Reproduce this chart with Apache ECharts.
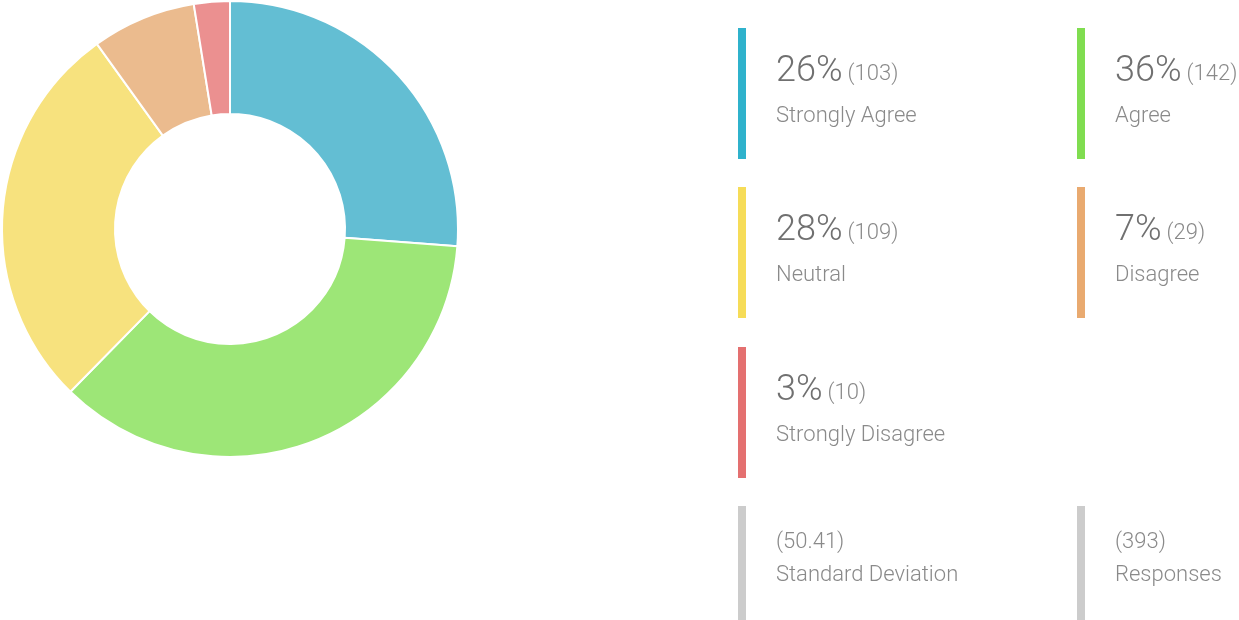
<!DOCTYPE html>
<html>
<head>
<meta charset="utf-8">
<script src="https://cdn.jsdelivr.net/npm/echarts@6/dist/echarts.min.js"></script>
<style>
  html, body { margin: 0; padding: 0; background: #fff; }
  #chart { width: 1239px; height: 620px; }
</style>
</head>
<body>
<div id="chart"></div>
<script>
// answer categories and counts, clockwise from 12 o'clock
const answers = ['Strongly Agree', 'Agree', 'Neutral', 'Disagree', 'Strongly Disagree']
const counts = [103, 142, 109, 29, 10]
// pale slice colours and the stronger legend bar colours
const sliceColors = ['#63bed3', '#9de677', '#f7e27e', '#ebbb8e', '#eb9090']
const barColors = ['#2fb2cc', '#80dd50', '#f6dc58', '#e9aa70', '#e47070']

const total = counts.reduce((a, b) => a + b, 0)
const mean = total / counts.length
const stdDev = Math.sqrt(counts.reduce((s, v) => s + (v - mean) * (v - mean), 0) / counts.length)

const FONT = 'Roboto, "Noto Sans", sans-serif'
const ctx = document.createElement('canvas').getContext('2d')
function textWidth(str, size) {
  ctx.font = '300 ' + size + 'px ' + FONT
  return ctx.measureText(str).width
}

// legend layout: two columns, rows about 160px apart
const colBar = [738, 1077]
const colText = [776, 1115]
const rowTop = [28, 187, 347, 506]
const barW = 8
const small = 22

const graphics = []
function block(col, row, color, barH) {
  graphics.push({
    type: 'rect',
    shape: { x: colBar[col], y: rowTop[row], width: barW, height: barH },
    style: { fill: color }
  })
}

answers.forEach((name, i) => {
  const col = i % 2
  const row = Math.floor(i / 2)
  const top = rowTop[row]
  const pct = Math.round(counts[i] / total * 100) + '%'
  block(col, row, barColors[i], 131)
  graphics.push({
    type: 'text',
    style: {
      x: colText[col], y: top + 62, text: pct, fill: '#707070',
      font: '300 36px ' + FONT, verticalAlign: 'bottom'
    }
  })
  graphics.push({
    type: 'text',
    style: {
      x: colText[col] + textWidth(pct, 36) + 5, y: top + 57, text: '(' + counts[i] + ')', fill: '#8a8a8a',
      font: '300 ' + small + 'px ' + FONT, verticalAlign: 'bottom'
    }
  })
  graphics.push({
    type: 'text',
    style: {
      x: colText[col], y: top + 88, text: name, fill: '#8a8a8a',
      font: '300 ' + small + 'px ' + FONT, verticalAlign: 'middle'
    }
  })
})

// summary row
const summary = [['(' + stdDev.toFixed(2) + ')', 'Standard Deviation'], ['(' + total + ')', 'Responses']]
summary.forEach((s, col) => {
  block(col, 3, '#cccccc', 114)
  graphics.push({
    type: 'text',
    style: { x: colText[col], y: rowTop[3] + 36, text: s[0], fill: '#8a8a8a', font: '300 ' + small + 'px ' + FONT, verticalAlign: 'middle' }
  })
  graphics.push({
    type: 'text',
    style: { x: colText[col], y: rowTop[3] + 69, text: s[1], fill: '#8a8a8a', font: '300 ' + small + 'px ' + FONT, verticalAlign: 'middle' }
  })
})

const chart = echarts.init(document.getElementById('chart'))
chart.setOption({
  animation: false,
  series: [{
    type: 'pie',
    center: [230, 229],
    radius: [115, 228],
    startAngle: 90,
    clockwise: true,
    label: { show: false },
    labelLine: { show: false },
    emphasis: { disabled: true },
    itemStyle: { borderColor: '#fff', borderWidth: 2 },
    data: answers.map((name, i) => ({ name, value: counts[i], itemStyle: { color: sliceColors[i] } }))
  }],
  graphic: graphics
})
</script>
</body>
</html>
